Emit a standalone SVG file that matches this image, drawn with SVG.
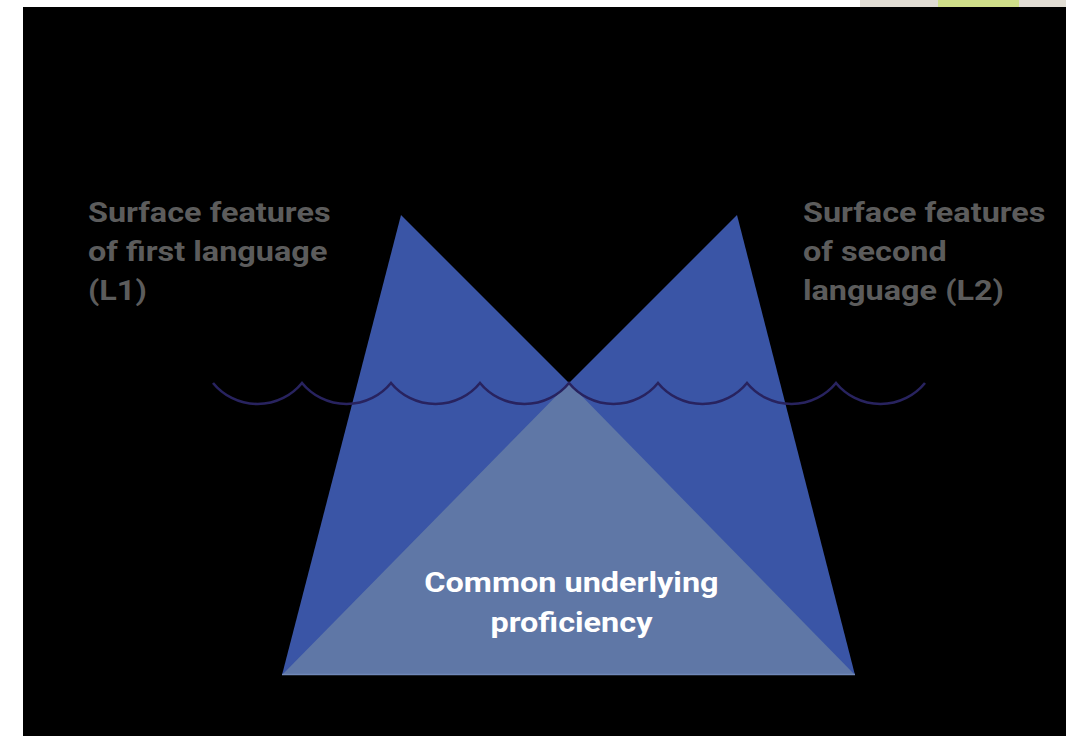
<svg xmlns="http://www.w3.org/2000/svg" width="1066" height="736" viewBox="0 0 1066 736">
<style>
.side{font-family:Roboto,"Liberation Sans",sans-serif;font-weight:bold;font-size:28px;fill:#5c5c5c}
.core{font-family:Roboto,"Liberation Sans",sans-serif;font-weight:bold;font-size:28px;fill:#ffffff;text-anchor:middle}
.tri{fill:#3a55a6}
</style>
<rect x="0" y="0" width="1066" height="736" fill="#ffffff"/>
<rect x="860" y="0" width="78" height="7" fill="#e1ddd4"/>
<rect x="938" y="0" width="81" height="7" fill="#d0df8a"/>
<rect x="1019" y="0" width="47" height="7" fill="#e1ddd4"/>
<rect x="23" y="7" width="1043" height="729" fill="#000000"/>
<g id="l1-surface">
<polygon class="tri" points="401,215 282,675 855,675 569,383"/>
</g>
<g id="l2-surface">
<polygon class="tri" points="737,215 855,675 282,675 569,383"/>
</g>
<g id="cup">
<polygon points="569,383 282,675 855,675" fill="#5f77a6"/>
<line x1="282" y1="674.5" x2="855" y2="674.5" stroke="#7088b8" stroke-width="1.5"/>
</g>
<g id="connectors">
<path d="M213,383 A57.6,57.6 0 0 0 302,383 A57.6,57.6 0 0 0 391,383 A57.6,57.6 0 0 0 480,383 A57.6,57.6 0 0 0 569,383 A57.6,57.6 0 0 0 658,383 A57.6,57.6 0 0 0 747,383 A57.6,57.6 0 0 0 836,383 A57.6,57.6 0 0 0 925,383" fill="none" stroke="#28235f" stroke-width="2.6"/>
</g>
<g id="label-l1" transform="scale(1.158,1)">
<text class="side" x="76" y="222">Surface features</text>
<text class="side" x="76" y="261">of first language</text>
<text class="side" x="76" y="300">(L1)</text>
</g>
<g id="label-l2" transform="scale(1.158,1)">
<text class="side" x="693.4" y="222">Surface features</text>
<text class="side" x="693.4" y="261">of second</text>
<text class="side" x="693.4" y="300">language (L2)</text>
</g>
<g id="label-core" transform="scale(1.158,1)">
<text class="core" x="493.5" y="592">Common underlying</text>
<text class="core" x="493.5" y="632">proficiency</text>
</g>
</svg>
